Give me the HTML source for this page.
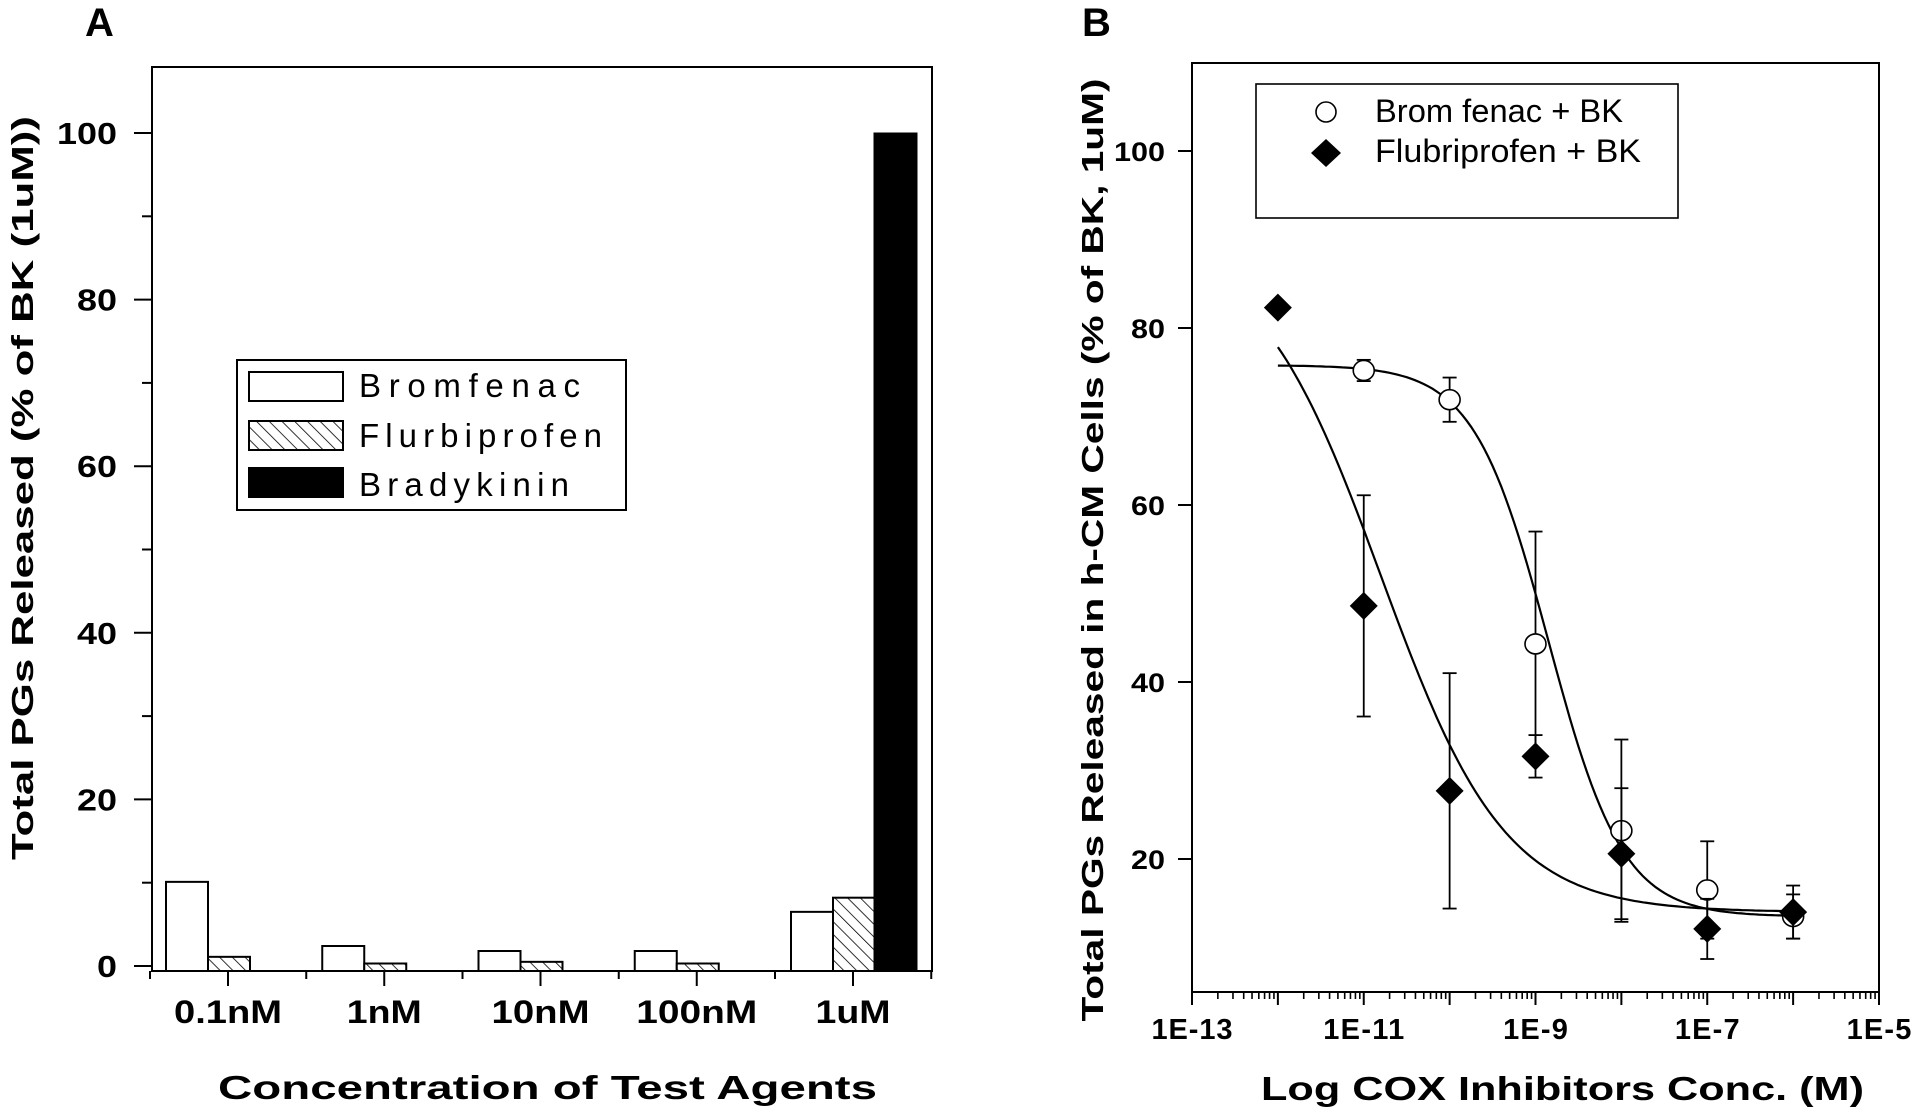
<!DOCTYPE html>
<html><head><meta charset="utf-8"><style>
html,body{margin:0;padding:0;background:#fff;}
svg{display:block;font-family:"Liberation Sans",Arial,sans-serif;}
</style></head><body>
<svg id="fig" width="1911" height="1112" viewBox="0 0 1911 1112" xmlns="http://www.w3.org/2000/svg">
<defs>
<pattern id="hatch" patternUnits="userSpaceOnUse" width="9" height="9" patternTransform="rotate(-45)">
<rect width="9" height="9" fill="#fff"/><line x1="0" y1="0" x2="0" y2="9" stroke="#000" stroke-width="1.6"/>
</pattern>
</defs>
<g id="panelA"></g>
<g id="panelB"></g>
</svg>
<script>
// Panel A data
const catsA = ["0.1nM","1nM","10nM","100nM","1uM"];
const bromA = [10.1, 2.4, 1.8, 1.8, 6.5];
const flurA = [1.1, 0.3, 0.5, 0.3, 8.2];
const bradyA = [null, null, null, null, 100];
const yTicksA = [0,20,40,60,80,100];
// Panel B data
const logX = [-12,-11,-10,-9,-8,-7,-6];
const bromB = [null, 75.2, 71.9, 44.3, 23.2, 16.5, 13.5];
const bromErr = [null, 1.2, 2.5, 12.7, 10.3, 5.5, 2.5];
const flurB = [82.3, 48.6, 27.7, 31.6, 20.6, 12.1, 14.0];
const flurErr = [0, 12.5, 13.3, 2.4, 7.4, 3.4, 3.0];
const yTicksB = [20,40,60,80,100];
const xTickLabelsB = ["1E-13","1E-11","1E-9","1E-7","1E-5"];
const bromFit = {top:75.8, bottom:13.5, ec:-8.85, h:1.0};
const flurFit = {top:90, bottom:14, ec:-10.8, h:0.6};

const NS="http://www.w3.org/2000/svg";
function mk(parent, tag, attrs, text){
  const e=document.createElementNS(NS,tag);
  for(const k in attrs) e.setAttribute(k,attrs[k]);
  if(text!==undefined) e.textContent=text;
  parent.appendChild(e); return e;
}
const A=document.getElementById('panelA');
const B=document.getElementById('panelB');

// ---------- Panel A ----------
const aL=152,aR=932,aT=67,aB=971;
const yA=v=>966-v*8.33;
const xA=i=>228+i*156.25;
let t=mk(A,'text',{x:85,y:36,'font-size':40,'font-weight':'bold'},'A');


let r=mk(A,'rect',{x:aL,y:aT,width:aR-aL,height:aB-aT,fill:'none',stroke:'#000','stroke-width':2});


catsA.forEach((c,i)=>{
  const cx=xA(i);
  if(bromA[i]!=null){
    const b=mk(A,'rect',{x:cx-62,y:yA(bromA[i]),width:42,height:aB-yA(bromA[i]),fill:'#fff',stroke:'#000','stroke-width':2});
    
    
  }
  if(flurA[i]!=null){
    const b=mk(A,'rect',{x:cx-20,y:yA(flurA[i]),width:42,height:aB-yA(flurA[i]),fill:'url(#hatch)',stroke:'#000','stroke-width':2});
    
    
  }
  if(bradyA[i]!=null){
    const b=mk(A,'rect',{x:cx+21,y:yA(bradyA[i]),width:43,height:aB-yA(bradyA[i]),fill:'#000',stroke:'#000','stroke-width':1});
    
    
  }
  const tk=mk(A,'line',{x1:cx,y1:aB,x2:cx,y2:aB+15,stroke:'#000','stroke-width':2});
  
  
  const lw=[108,75,98,121,75][i];
  const lb=mk(A,'text',{x:cx-lw/2,y:1023,'font-size':32,'font-weight':'bold',textLength:lw,lengthAdjust:'spacingAndGlyphs'},c);
  
  
});
for(let i=0;i<=5;i++){
  const bx=xA(i)-78;
  const tk=mk(A,'line',{x1:bx,y1:aB,x2:bx,y2:aB+8,stroke:'#000','stroke-width':2});
  
  
}
for(let v=0;v<=100;v+=10){
  const major=v%20===0;
  const tk=mk(A,'line',{x1:major?134:142,y1:yA(v),x2:aL,y2:yA(v),stroke:'#000','stroke-width':2});
  
  
}
yTicksA.forEach(v=>{
  const s=String(v); const w=s.length*20;
  const lb=mk(A,'text',{x:117-w,y:yA(v)+11,'font-size':31,'font-weight':'bold',textLength:w,lengthAdjust:'spacingAndGlyphs'},s);
  
  
});
t=mk(A,'text',{x:0,y:0,'font-size':31,'font-weight':'bold',textLength:744,lengthAdjust:'spacingAndGlyphs','text-anchor':'middle',transform:'translate(33,488) rotate(-90)'},'Total  PGs  Released  (% of BK (1uM))');


t=mk(A,'text',{x:218,y:1099,'font-size':33,'font-weight':'bold',textLength:659,lengthAdjust:'spacingAndGlyphs'},'Concentration  of  Test  Agents');


const lgA=mk(A,'g',{});


mk(lgA,'rect',{x:237,y:360,width:389,height:150,fill:'#fff',stroke:'#000','stroke-width':2});
[["Bromfenac",'#fff',372,397,221],["Flurbiprofen",'url(#hatch)',421,447,243],["Bradykinin",'#000',468,496,210]].forEach(e=>{
  const g=mk(lgA,'g',{});
  
  
  mk(g,'rect',{x:249,y:e[2],width:94,height:29,fill:e[1],stroke:'#000','stroke-width':2});
  mk(g,'text',{x:359,y:e[3],'font-size':33,textLength:e[4],lengthAdjust:'spacing'},e[0]);
});

// ---------- Panel B ----------
const bL=1192,bR=1879,bT=63,bB=992;
const xB=lg=>bL+(lg+13)*(bR-bL)/8;
const yB=v=>151+(100-v)*8.85;
t=mk(B,'text',{x:1082,y:36,'font-size':40,'font-weight':'bold'},'B');


r=mk(B,'rect',{x:bL,y:bT,width:bR-bL,height:bB-bT,fill:'none',stroke:'#000','stroke-width':2});


for(let d=-13;d<=-5;d++){
  const tk=mk(B,'line',{x1:xB(d),y1:bB,x2:xB(d),y2:bB+13,stroke:'#000','stroke-width':2});
  
  
  if(d<-5){
    for(let m=2;m<=9;m++){
      const xx=xB(d+Math.log10(m));
      const mt=mk(B,'line',{x1:xx,y1:bB,x2:xx,y2:bB+7,stroke:'#000','stroke-width':1.6});
      
      
    }
  }
}
xTickLabelsB.forEach((s,i)=>{
  const d=-13+2*i; const w=s.length*16.2;
  const lb=mk(B,'text',{x:xB(d)-w/2,y:1039,'font-size':29,'font-weight':'bold',textLength:w,lengthAdjust:'spacing'},s);
  
  
});
yTicksB.forEach(v=>{
  const tk=mk(B,'line',{x1:bL-14,y1:yB(v),x2:bL,y2:yB(v),stroke:'#000','stroke-width':2});
  
  
  const s=String(v); const w=s.length*17;
  const lb=mk(B,'text',{x:1165-w,y:yB(v)+10,'font-size':27,'font-weight':'bold',textLength:w,lengthAdjust:'spacingAndGlyphs'},s);
  
  
});
t=mk(B,'text',{x:0,y:0,'font-size':31,'font-weight':'bold',textLength:943,lengthAdjust:'spacingAndGlyphs','text-anchor':'middle',transform:'translate(1103,550) rotate(-90)'},'Total PGs Released in h-CM Cells  (% of BK, 1uM)');


t=mk(B,'text',{x:1261,y:1100,'font-size':33,'font-weight':'bold',textLength:603,lengthAdjust:'spacingAndGlyphs'},'Log  COX  Inhibitors  Conc.  (M)');


function curve(f){
  let d='';
  for(let k=0;k<=120;k++){
    const lg=-12+k*6/120;
    const v=f.bottom+(f.top-f.bottom)/(1+Math.pow(10,f.h*(lg-f.ec)));
    d+=(k?'L':'M')+xB(lg).toFixed(1)+' '+yB(v).toFixed(1);
  }
  return d;
}
let c=mk(B,'path',{d:curve(bromFit),fill:'none',stroke:'#000','stroke-width':2.2});


c=mk(B,'path',{d:curve(flurFit),fill:'none',stroke:'#000','stroke-width':2.2});


function errbar(x,v,e,name){
  if(!e) return;
  const g=mk(B,'g',{stroke:'#000','stroke-width':1.8});
  
  
  mk(g,'line',{x1:x,y1:yB(v+e),x2:x,y2:yB(v-e)});
  mk(g,'line',{x1:x-7,y1:yB(v+e),x2:x+7,y2:yB(v+e)});
  mk(g,'line',{x1:x-7,y1:yB(v-e),x2:x+7,y2:yB(v-e)});
}
logX.forEach((lg,i)=>{
  const x=xB(lg);
  if(bromB[i]!=null){
    errbar(x,bromB[i],bromErr[i],'error-bar-bromfenac');
    const p=mk(B,'ellipse',{cx:x,cy:yB(bromB[i]),rx:10.5,ry:10,fill:'#fff',stroke:'#000','stroke-width':1.6});
    
    
  }
});
logX.forEach((lg,i)=>{
  const x=xB(lg);
  errbar(x,flurB[i],flurErr[i],'error-bar-flurbiprofen');
  const y=yB(flurB[i]);
  const p=mk(B,'polygon',{points:`${x},${y-14} ${x+14},${y} ${x},${y+14} ${x-14},${y}`,fill:'#000'});
  
  
});
const lgB=mk(B,'g',{});


mk(lgB,'rect',{x:1256,y:84,width:422,height:134,fill:'#fff',stroke:'#000','stroke-width':1.6});
let g=mk(lgB,'g',{});


mk(g,'ellipse',{cx:1326,cy:112,rx:10,ry:10,fill:'#fff',stroke:'#000','stroke-width':1.6});
mk(g,'text',{x:1375,y:122,'font-size':32,textLength:248,lengthAdjust:'spacingAndGlyphs'},'Brom fenac + BK');
g=mk(lgB,'g',{});


mk(g,'polygon',{points:'1326,139 1341,153 1326,167 1311,153',fill:'#000'});
mk(g,'text',{x:1375,y:162,'font-size':32,textLength:266,lengthAdjust:'spacingAndGlyphs'},'Flubriprofen + BK');
</script>
</body></html>
